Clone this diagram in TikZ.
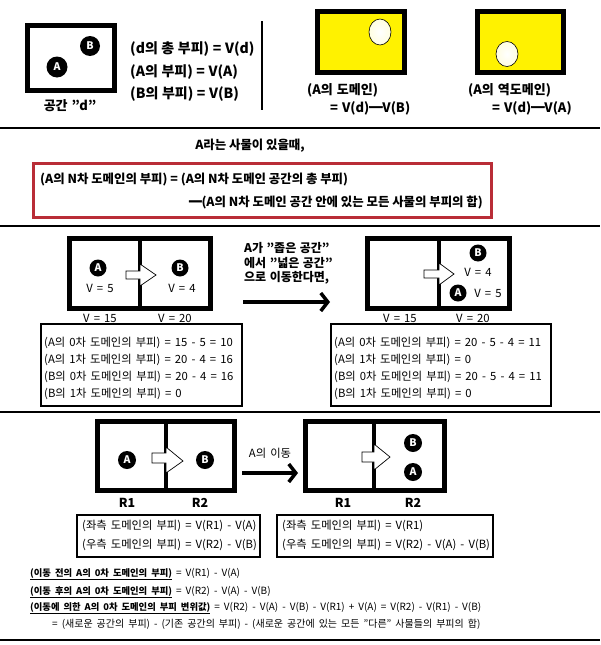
\documentclass[tikz,border=0pt]{standalone}
\usepackage{fontspec}
\setmainfont{Noto Sans CJK KR}
\newfontfamily\dashfont[FakeBold=4]{Noto Sans CJK KR}
\usetikzlibrary{arrows.meta}
\definecolor{domyellow}{RGB}{255,242,0}
\definecolor{boxred}{RGB}{185,45,55}
\newcommand{\heavydash}{{\dashfont\mdseries ━}}
\newcommand{\wordgap}[1]{\spaceskip=#1\relax}
\tikzset{
  thickbox/.style={line width=5pt},
  ball/.style={circle, fill=black, text=white, inner sep=0pt, minimum size=#1,
    font=\bfseries\fontsize{10.5}{10.5}\selectfont},
  ball/.default=18pt,
  hole/.style={draw=black, line width=0.6pt, inner color=white, outer color=white!88!domyellow},
  sectxt/.style={inner sep=0pt, font={\bfseries\fontsize{14}{16}\selectfont\wordgap{3.6pt}}},
  domtxt/.style={inner sep=0pt, font={\bfseries\fontsize{13}{15}\selectfont\wordgap{4pt}}},
  headtxt/.style={inner sep=0pt, font=\bfseries\fontsize{12.4}{15}\selectfont},
  midtxt/.style={inner sep=0pt, font={\bfseries\fontsize{12}{14}\selectfont\wordgap{3.5pt}}},
  smalltxt/.style={inner sep=0pt, font={\fontsize{11.3}{13}\selectfont\wordgap{4.1pt}}},
  notetxt/.style={inner sep=0pt, font={\fontsize{10}{12}\selectfont\wordgap{4pt}}},
  blockarrow/.style={draw=black, fill=white, line width=0.7pt, line join=miter},
  movearrow/.style={line width=3.5pt, -{Straight Barb[length=7pt,width=18pt]}},
  sepline/.style={line width=1.6pt},
}
\begin{document}
\begin{tikzpicture}[x=1pt, y=-1pt]
  \useasboundingbox (0,0) rectangle (600,645);
  % space d and the volumes
  \draw[thickbox] (27.5,25.5) rectangle (114.5,90.5);
  \node[ball=20pt] (b1) at (90,46) {B};
  \node[ball=21pt] (a1) at (57,67) {A};
  \node[domtxt] (dname) at (70,106) {공간 "d"};
  \node[sectxt, anchor=west] (vd) at (130,49) {(d의 총 부피) = V(d)};
  \node[sectxt, anchor=west] (va) at (130,72) {(A의 부피) = V(A)};
  \node[sectxt, anchor=west] (vb) at (130,94) {(B의 부피) = V(B)};
  \draw[line width=1.2pt] (262,21) -- (262,110);
  % domain and inverse domain
  \draw[thickbox, fill=domyellow] (317,11) rectangle (404,72);
  \shadedraw[hole] (380,32) ellipse [x radius=11, y radius=13];
  \draw[thickbox, fill=domyellow] (477.5,11) rectangle (563.5,72);
  \shadedraw[hole] (507,54) ellipse [x radius=11, y radius=12.5];
  \node[domtxt, anchor=west] (dom) at (307,90) {(A의 도메인)};
  \node[domtxt, anchor=west] (domeq) at (330,108) {= V(d)\heavydash V(B)};
  \node[domtxt, anchor=west] (inv) at (468,90) {(A의 역도메인)};
  \node[domtxt, anchor=west] (inveq) at (492,108) {= V(d)\heavydash V(A)};
  \draw[sepline] (0,128) -- (600,128);
  % definition
  \node[headtxt] (title) at (250,146) {A라는 사물이 있을때,};
  \draw[boxred, line width=3pt] (33.5,163.5) rectangle (491.5,217.5);
  \node[headtxt, anchor=west] (rule1) at (40,180) {(A의 N차 도메인의 부피) = (A의 N차 도메인 공간의 총 부피)};
  \node[headtxt, anchor=east] (rule2) at (483,202) {\heavydash(A의 N차 도메인 공간 안에 있는 모든 사물의 부피의 합)};
  \draw[sepline] (0,226) -- (600,226);
  % narrow space to wide space
  \draw[thickbox] (69.5,238.5) rectangle (210.5,308.5);
  \draw[line width=4pt] (140,238.5) -- (140,308.5);
  \draw[blockarrow] (126,271) -- (140,271) -- (140,264) -- (156,275) -- (140,286) -- (140,279) -- (126,279) -- cycle;
  \node[ball=17pt] (a2) at (98,268) {A};
  \node[smalltxt] (va2) at (100,288) {V = 5};
  \node[ball=17pt] (b2) at (180,268) {B};
  \node[smalltxt] (vb2) at (182,288) {V = 4};
  \node[smalltxt] (vl2) at (100,318) {V = 15};
  \node[smalltxt] (vr2) at (175,318) {V = 20};
  \node[midtxt, anchor=west] (mv1) at (244,248) {A가 "좁은 공간"};
  \node[midtxt, anchor=west] (mv2) at (244,263) {에서 "넓은 공간"};
  \node[midtxt, anchor=west] (mv3) at (244,278) {으로 이동한다면,};
  \coordinate (mvs) at (243,302);
  \coordinate (mve) at (330,302);
  \draw[movearrow] (mvs) -- (mve);
  \draw[thickbox] (367.5,238.5) rectangle (509.5,308.5);
  \draw[line width=4pt] (439,238.5) -- (439,308.5);
  \draw[blockarrow] (424,270) -- (439,270) -- (439,263) -- (454,274) -- (439,285) -- (439,278) -- (424,278) -- cycle;
  \node[ball=17pt] (b3) at (478,253) {B};
  \node[smalltxt] (vb3) at (478,272) {V = 4};
  \node[ball=17pt] (a3) at (458,293) {A};
  \node[smalltxt] (va3) at (488,293) {V = 5};
  \node[smalltxt] (vl3) at (400,318) {V = 15};
  \node[smalltxt] (vr3) at (473,318) {V = 20};
  \draw[line width=1.2pt] (41,324) rectangle (242,406);
  \node[smalltxt, anchor=west] (c1) at (44,343) {(A의 0차 도메인의 부피) = 15 - 5 = 10};
  \node[smalltxt, anchor=west] (c2) at (44,360) {(A의 1차 도메인의 부피) = 20 - 4 = 16};
  \node[smalltxt, anchor=west] (c3) at (44,377) {(B의 0차 도메인의 부피) = 20 - 4 = 16};
  \node[smalltxt, anchor=west] (c4) at (44,394) {(B의 1차 도메인의 부피) = 0};
  \draw[line width=1.2pt] (331,324) rectangle (551,406);
  \node[smalltxt, anchor=west] (d1) at (334,343) {(A의 0차 도메인의 부피) = 20 - 5 - 4 = 11};
  \node[smalltxt, anchor=west] (d2) at (334,360) {(A의 1차 도메인의 부피) = 0};
  \node[smalltxt, anchor=west] (d3) at (334,377) {(B의 0차 도메인의 부피) = 20 - 5 - 4 = 11};
  \node[smalltxt, anchor=west] (d4) at (334,394) {(B의 1차 도메인의 부피) = 0};
  \draw[sepline] (0,412) -- (600,412);
  % moving A from R1 to R2
  \draw[thickbox] (97.5,421.5) rectangle (234.5,490.5);
  \draw[line width=4pt] (165.5,421.5) -- (165.5,490.5);
  \draw[blockarrow] (152,453) -- (166,453) -- (166,447) -- (183,461) -- (166,473) -- (166,463) -- (152,463) -- cycle;
  \node[ball=18pt] (a4) at (127,460) {A};
  \node[ball=18pt] (b4) at (205,460) {B};
  \node[headtxt] (r1a) at (127,503) {R1};
  \node[headtxt] (r2a) at (200,503) {R2};
  \node[smalltxt] (mvlab) at (270,453) {A의 이동};
  \coordinate (ms) at (242,473);
  \coordinate (me) at (298,473);
  \draw[movearrow] (ms) -- (me);
  \draw[thickbox] (305.5,421.5) rectangle (444.5,490.5);
  \draw[line width=4pt] (373.5,421.5) -- (373.5,490.5);
  \draw[blockarrow] (362,452) -- (374,452) -- (374,444) -- (390,457) -- (374,470) -- (374,462) -- (362,462) -- cycle;
  \node[ball=18pt] (b5) at (413,443) {B};
  \node[ball=18pt] (a5) at (413,472) {A};
  \node[headtxt] (r1b) at (343,503) {R1};
  \node[headtxt] (r2b) at (413,503) {R2};
  \draw[line width=1.2pt] (77,515) rectangle (260,557);
  \node[smalltxt, anchor=west] (e1) at (82,526) {(좌측 도메인의 부피) = V(R1) - V(A)};
  \node[smalltxt, anchor=west] (e2) at (82,545) {(우측 도메인의 부피) = V(R2) - V(B)};
  \draw[line width=1.2pt] (277,515) rectangle (493,557);
  \node[smalltxt, anchor=west] (f1) at (282,526) {(좌측 도메인의 부피) = V(R1)};
  \node[smalltxt, anchor=west] (f2) at (282,545) {(우측 도메인의 부피) = V(R2) - V(A) - V(B)};
  % change of the 0th domain
  \node[notetxt, anchor=west] (g1) at (30,574) {\underline{\textbf{\fontsize{9.3}{12}\selectfont(이동 전의 A의 0차 도메인의 부피)}} = V(R1) - V(A)};
  \node[notetxt, anchor=west] (g2) at (30,592) {\underline{\textbf{\fontsize{9.3}{12}\selectfont(이동 후의 A의 0차 도메인의 부피)}} = V(R2) - V(A) - V(B)};
  \node[notetxt, anchor=west] (g3) at (30,608) {\underline{\textbf{\fontsize{9.3}{12}\selectfont(이동에 의한 A의 0차 도메인의 부피 변위값)}} = V(R2) - V(A) - V(B) - V(R1) + V(A) = V(R2) - V(R1) - V(B)};
  \node[notetxt, anchor=west] (g4) at (52,624) {= (새로운 공간의 부피) - (기존 공간의 부피) - (새로운 공간에 있는 모든 "다른" 사물들의 부피의 합)};
  \draw[sepline] (0,640) -- (600,640);
\end{tikzpicture}
\end{document}
